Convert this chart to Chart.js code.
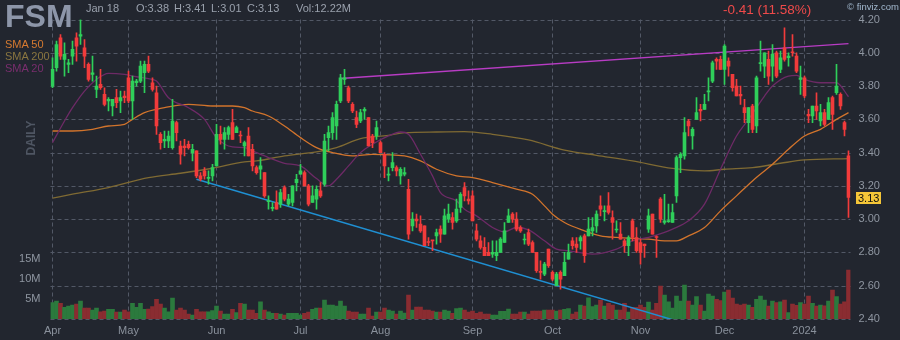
<!DOCTYPE html>
<html><head><meta charset="utf-8">
<script src="https://cdn.jsdelivr.net/npm/chart.js@4.4.1/dist/chart.umd.min.js"></script>
<style>
html,body{margin:0;padding:0;background:#22262f;width:900px;height:340px;overflow:hidden;font-family:"Liberation Sans",Arial,sans-serif}
#wrap{position:relative;width:900px;height:340px}
canvas{position:absolute;left:0;top:0}
.t{position:absolute;white-space:nowrap;line-height:1}
</style></head><body>
<div id="wrap">
<canvas id="c" width="900" height="340"></canvas>
<div class="t" style="left:5px;top:0px;font-size:32px;font-weight:bold;color:#8d96a9">FSM</div>
<div class="t" style="left:86px;top:3px;font-size:11px;color:#9aa1ad">Jan 18</div>
<div class="t" style="left:136px;top:3px;font-size:11px;color:#9aa1ad">O:3.38</div>
<div class="t" style="left:174px;top:3px;font-size:11px;color:#9aa1ad">H:3.41</div>
<div class="t" style="left:211px;top:3px;font-size:11px;color:#9aa1ad">L:3.01</div>
<div class="t" style="left:247px;top:3px;font-size:11px;color:#9aa1ad">C:3.13</div>
<div class="t" style="left:296px;top:3px;font-size:11px;color:#9aa1ad">Vol:12.22M</div>
<div class="t" style="left:723px;top:3px;font-size:13.5px;color:#ef4a4a">-0.41 (11.58%)</div>
<div class="t" style="left:847px;top:2px;font-size:9.5px;color:#a3b9cf">© finviz.com</div>
<div class="t" style="left:5px;top:39px;font-size:11px;color:#d67a30">SMA 50</div>
<div class="t" style="left:5px;top:51px;font-size:11px;color:#8a7640">SMA 200</div>
<div class="t" style="left:5px;top:63px;font-size:11px;color:#7a2e6e">SMA 20</div>
<div class="t" style="left:31px;top:138px;font-size:12px;font-weight:bold;color:#4f5663;transform:translate(-50%,-50%) rotate(-90deg)">DAILY</div>
</div>
<script>
const monthLabels = ['Apr','May','Jun','Jul','Aug','Sep','Oct','Nov','Dec','2024'];
const monthStarts = [0,19,41,62,82,105,125,147,168,188];
const priceTicks = [2.40,2.60,2.80,3.00,3.20,3.40,3.60,3.80,4.00,4.20];
const volTicks = [5,10,15];

const opens = [3.80,3.91,4.09,3.96,3.93,3.98,4.09,4.10,4.03,3.93,3.87,3.78,3.81,3.75,3.71,3.68,3.73,3.71,3.74,3.85,
3.71,3.82,3.83,3.88,3.93,3.82,3.76,3.51,3.47,3.47,3.43,3.58,3.44,3.44,3.45,3.40,3.41,3.26,3.29,3.245,
3.26,3.32,3.51,3.48,3.51,3.58,3.52,3.505,3.44,3.50,3.42,3.31,3.30,3.28,3.105,3.065,3.10,3.09,3.19,3.09,
3.10,3.22,3.27,3.28,3.20,3.10,3.12,3.17,3.21,3.49,3.52,3.56,3.71,3.84,3.79,3.69,3.61,3.59,3.65,3.61,
3.50,3.50,3.46,3.39,3.265,3.31,3.31,3.26,3.27,3.18,2.96,3.00,2.97,2.96,2.865,2.875,2.90,2.94,2.91,3.00,
3.01,2.99,3.07,3.19,3.12,3.14,2.93,2.87,2.83,2.80,2.79,2.78,2.80,2.86,2.98,3.03,3.00,2.95,2.875,2.92,
2.86,2.80,2.685,2.67,2.82,2.68,2.60,2.68,2.66,2.76,2.87,2.85,2.87,2.90,2.90,2.93,2.96,3.08,3.045,3.08,
3.01,2.935,2.91,2.87,2.84,2.99,2.89,2.86,2.85,2.94,3.03,2.895,3.12,2.98,2.985,2.98,3.14,3.37,3.38,3.59,
3.50,3.60,3.66,3.66,3.765,3.83,3.96,3.96,3.90,3.95,3.87,3.80,3.75,3.67,3.58,3.68,3.56,3.935,3.92,3.96,
3.92,4.00,3.90,4.03,3.97,4.005,3.98,3.84,3.85,3.63,3.62,3.68,3.59,3.64,3.60,3.73,3.76,3.75,3.58,3.38];
const highs = [3.97,4.07,4.11,4.06,3.96,4.07,4.12,4.20,4.08,3.94,3.98,3.86,3.90,3.79,3.73,3.72,3.78,3.77,3.77,3.89,
3.86,3.84,3.95,3.95,3.98,3.85,3.80,3.52,3.53,3.53,3.72,3.59,3.47,3.48,3.47,3.45,3.41,3.28,3.31,3.29,
3.33,3.57,3.56,3.55,3.56,3.66,3.56,3.53,3.47,3.55,3.45,3.32,3.37,3.28,3.14,3.10,3.17,3.18,3.20,3.15,
3.20,3.27,3.33,3.29,3.21,3.20,3.20,3.22,3.51,3.56,3.64,3.71,3.87,3.90,3.80,3.70,3.65,3.66,3.67,3.61,
3.51,3.59,3.47,3.40,3.31,3.40,3.32,3.31,3.31,3.24,3.04,3.03,3.02,2.96,2.89,2.87,2.94,2.96,3.06,3.09,
3.04,3.12,3.16,3.22,3.17,3.17,2.97,2.90,2.89,2.86,2.87,2.87,2.89,2.98,3.06,3.04,3.04,2.96,2.91,2.94,
2.87,2.80,2.75,2.74,2.82,2.69,2.68,2.69,2.80,2.85,2.89,2.89,2.90,2.91,3.01,3.01,3.05,3.14,3.08,3.16,
3.05,2.99,2.98,2.88,2.90,3.00,2.95,2.88,2.85,3.06,3.03,2.90,3.13,3.15,3.09,3.09,3.38,3.40,3.61,3.60,
3.55,3.73,3.69,3.75,3.85,3.95,3.97,3.98,4.05,3.97,3.87,3.84,3.80,3.72,3.67,3.69,3.86,4.07,4.00,4.01,
4.05,4.01,4.01,4.15,4.00,4.11,4.00,3.92,3.86,3.66,3.68,3.76,3.69,3.66,3.73,3.74,3.93,3.76,3.59,3.41];
const lows = [3.79,3.89,3.96,3.86,3.88,3.93,3.95,4.05,3.91,3.83,3.83,3.73,3.78,3.68,3.65,3.62,3.67,3.64,3.70,3.70,
3.60,3.80,3.82,3.76,3.88,3.77,3.51,3.42,3.43,3.43,3.42,3.47,3.33,3.38,3.42,3.35,3.25,3.23,3.24,3.21,
3.23,3.32,3.45,3.42,3.48,3.48,3.52,3.46,3.38,3.38,3.29,3.27,3.24,3.13,3.06,3.05,3.06,3.07,3.11,3.08,
3.08,3.17,3.27,3.20,3.08,3.10,3.06,3.13,3.20,3.41,3.48,3.48,3.70,3.81,3.70,3.64,3.55,3.58,3.60,3.44,
3.43,3.48,3.40,3.25,3.23,3.29,3.26,3.21,3.26,2.88,2.93,2.95,2.92,2.84,2.84,2.81,2.85,2.86,2.91,2.98,
2.94,2.98,3.04,3.11,3.09,2.99,2.87,2.82,2.78,2.78,2.77,2.75,2.80,2.86,2.98,2.98,2.93,2.92,2.85,2.84,
2.80,2.68,2.64,2.66,2.71,2.63,2.60,2.58,2.66,2.76,2.82,2.80,2.82,2.74,2.90,2.90,2.92,3.02,2.99,3.03,
2.88,2.92,2.88,2.80,2.78,2.87,2.80,2.73,2.77,2.92,2.91,2.77,2.98,2.97,2.98,2.98,3.10,3.28,3.36,3.50,
3.42,3.60,3.59,3.66,3.71,3.82,3.90,3.90,3.81,3.86,3.77,3.74,3.69,3.58,3.52,3.52,3.52,3.89,3.85,3.81,
3.83,3.85,3.88,3.95,3.92,3.98,3.88,3.75,3.73,3.58,3.58,3.60,3.56,3.56,3.60,3.54,3.75,3.66,3.50,3.01];
const closes = [3.90,4.05,3.98,3.99,3.94,4.02,4.04,4.11,3.98,3.84,3.88,3.80,3.79,3.69,3.72,3.72,3.70,3.73,3.73,3.71,
3.83,3.83,3.92,3.93,3.89,3.78,3.56,3.46,3.48,3.50,3.59,3.52,3.39,3.43,3.43,3.42,3.26,3.24,3.26,3.25,
3.31,3.51,3.48,3.52,3.55,3.48,3.55,3.50,3.46,3.38,3.32,3.28,3.32,3.14,3.11,3.07,3.06,3.16,3.12,3.12,
3.20,3.24,3.29,3.20,3.09,3.14,3.18,3.14,3.47,3.52,3.61,3.69,3.85,3.85,3.71,3.65,3.57,3.64,3.66,3.44,
3.46,3.55,3.40,3.32,3.27,3.34,3.29,3.30,3.28,2.91,3.00,2.99,2.93,2.84,2.86,2.87,2.92,2.91,3.02,3.03,
2.98,3.06,3.15,3.14,3.11,2.99,2.88,2.83,2.78,2.78,2.80,2.80,2.88,2.93,3.02,3.00,2.94,2.93,2.88,2.85,
2.80,2.69,2.68,2.73,2.72,2.64,2.67,2.64,2.74,2.80,2.84,2.83,2.89,2.78,2.94,2.95,3.03,3.06,3.05,3.04,
2.98,2.94,2.88,2.84,2.89,2.89,2.81,2.80,2.84,3.02,2.91,2.89,3.00,2.99,2.99,3.04,3.37,3.39,3.52,3.56,
3.54,3.64,3.65,3.69,3.77,3.94,3.95,3.90,4.04,3.92,3.79,3.74,3.74,3.64,3.67,3.54,3.85,3.94,4.00,3.86,
3.99,3.86,3.97,3.96,3.98,4.00,3.89,3.85,3.74,3.62,3.68,3.65,3.64,3.57,3.70,3.63,3.80,3.68,3.54,3.13];
const volumeM = [4.1,4.5,3.9,2.9,3.25,3.5,3.75,4.5,2.7,2.7,2.25,2.7,1.8,2.0,2.4,2.4,1.75,1.75,2.25,1.8,
3.9,2.9,3.9,2.4,2.5,3.1,4.9,3.75,2.7,1.8,5.2,2.25,2.7,2.25,1.25,1.0,2.4,1.8,1.8,1.8,
2.1,3.25,2.0,1.25,1.25,2.4,1.6,3.9,3.75,2.25,2.25,1.4,4.3,2.25,1.8,1.4,1.4,1.25,1.0,1.4,
1.4,1.4,1.0,1.4,1.7,2.4,2.7,2.7,4.75,3.5,3.5,3.25,4.5,3.25,2.0,1.75,1.75,1.25,1.25,2.75,
0.75,1.75,1.75,2.75,2.25,2.0,1.25,2.0,1.5,6.0,2.25,3.0,3.0,2.25,2.25,2.0,1.75,1.75,2.25,2.0,
1.4,2.6,2.75,2.25,1.75,2.0,1.4,1.75,1.25,1.25,1.0,1.0,1.9,1.9,2.5,1.25,1.25,1.75,1.75,1.25,
2.0,2.0,2.0,2.25,2.25,2.25,2.0,2.25,2.4,2.6,1.25,1.75,3.5,3.25,5.3,3.1,3.5,4.75,3.25,3.9,
3.5,2.25,2.25,3.9,1.75,2.9,2.9,3.5,2.9,4.25,2.25,3.9,8.25,6.0,4.3,2.75,5.75,4.5,8.5,4.5,
3.5,5.6,3.5,2.0,6.25,5.75,4.9,4.6,6.75,7.25,5.2,3.75,3.5,3.75,3.5,2.9,4.9,5.75,4.75,3.25,
4.5,4.1,4.3,4.75,1.6,3.75,3.4,4.1,3.75,5.75,3.9,3.25,3.5,3.3,4.5,7.25,5.6,3.75,4.3,12.22];

const sma20 = [[0,3.46],[3,3.59],[5,3.67],[8,3.77],[11,3.84],[14,3.876],[18,3.87],[21,3.856],[24,3.844],[26,3.83],[29,3.73],[34,3.67],[38,3.60],[41,3.49],[45,3.434],[48,3.43],[50,3.41],[54,3.37],[58,3.336],[62,3.32],[66,3.244],[69,3.20],[71,3.24],[74,3.32],[77,3.40],[80,3.45],[84,3.50],[87,3.524],[89,3.51],[92,3.39],[95,3.26],[97,3.16],[101,3.11],[103,3.06],[106,3.02],[110,2.95],[113,2.924],[116,2.95],[119,2.936],[123,2.87],[126,2.82],[129,2.81],[135,2.79],[141,2.82],[145,2.87],[149,2.89],[153,2.92],[155,2.94],[159,2.99],[163,3.09],[167,3.30],[171,3.50],[174,3.60],[178,3.74],[180,3.80],[184,3.86],[186,3.864],[188,3.84],[192,3.82],[196,3.82],[199,3.736]];
const sma50 = [[0,3.53],[5,3.53],[10,3.54],[14,3.56],[18,3.57],[20,3.60],[23,3.64],[26,3.66],[28,3.67],[34,3.69],[40,3.68],[45,3.68],[48,3.67],[50,3.65],[54,3.62],[58,3.56],[62,3.49],[66,3.43],[70,3.40],[75,3.38],[80,3.39],[88,3.38],[92,3.35],[96,3.30],[101,3.26],[105,3.25],[110,3.22],[116,3.18],[120,3.15],[123,3.08],[125,3.03],[128,2.98],[133,2.93],[137,2.90],[141,2.89],[149,2.88],[153,2.87],[156,2.87],[159,2.90],[163,2.95],[167,3.05],[171,3.14],[175,3.23],[180,3.33],[184,3.42],[188,3.50],[192,3.54],[196,3.60],[199,3.64]];
const sma200 = [[0,3.126],[5,3.15],[14,3.19],[24,3.25],[32,3.276],[40,3.306],[48,3.344],[51,3.35],[58,3.38],[66,3.404],[71,3.43],[77,3.484],[84,3.504],[88,3.52],[96,3.524],[103,3.526],[110,3.51],[119,3.476],[128,3.415],[136,3.384],[145,3.35],[155,3.305],[163,3.29],[168,3.30],[175,3.31],[182,3.336],[188,3.356],[199,3.364]];
const resistance = [[72,3.845],[199,4.055]];
const support = [[36,3.24],[155,2.396]];

const N = opens.length;
const idx = [...Array(N).keys()];
const labels = idx.map(String);
const monthAt = {}; monthStarts.forEach((s,k)=>monthAt[s]=monthLabels[k]);
const isUp = idx.map(i => closes[i] >= opens[i]);
const UP='#2fcf5a', DN='#f23b3b', VUP='#2b7a3d', VDN='#8a2c31';
function sparse(pairs){ const a = new Array(N).fill(null); pairs.forEach(([i,v])=>{a[i]=v;}); return a; }
const FONT = {family:'"Liberation Sans", Arial, sans-serif', size:11};
const GRID = '#525866';

const dashGrid = {
  id:'dashGrid',
  beforeDatasetsDraw(chart){
    const ctx = chart.ctx; const a = chart.chartArea; const x = chart.scales.x, y = chart.scales.y;
    ctx.save();
    ctx.strokeStyle = GRID; ctx.lineWidth = 1; ctx.setLineDash([4,3]);
    ctx.beginPath();
    for (const v of priceTicks) { const py = Math.round(y.getPixelForValue(v)) + 0.5; ctx.moveTo(a.left, py); ctx.lineTo(a.right, py); }
    for (const i of monthStarts) { const px = Math.floor(x.getPixelForValue(i)) + 0.5; ctx.moveTo(px, a.top); ctx.lineTo(px, a.bottom); }
    ctx.stroke();
    ctx.restore();
  }
};

const lastBox = {
  id:'lastBox',
  afterDraw(chart){
    const {ctx} = chart; const y = chart.scales.y;
    const v = closes[N-1]; const py = Math.round(y.getPixelForValue(v));
    ctx.save();
    ctx.fillStyle = '#f5c638';
    ctx.fillRect(856, py-6, 25, 12);
    ctx.fillStyle = '#111';
    ctx.font = '11px "Liberation Sans", Arial, sans-serif';
    ctx.textBaseline = 'middle'; ctx.textAlign = 'left';
    ctx.fillText(v.toFixed(2), 858, py+0.5);
    ctx.restore();
  }
};

const lineDs = (label, pairs, color, w, order) => ({
  type:'line', label, data: sparse(pairs), yAxisID:'y', borderColor: color, borderWidth: w,
  pointRadius:0, spanGaps:true, cubicInterpolationMode:'monotone', order, fill:false
});

new Chart(document.getElementById('c'), {
  type:'bar',
  data:{
    labels,
    datasets:[
      { label:'vol', data: volumeM, yAxisID:'yv', backgroundColor: idx.map(i=>isUp[i]?VUP:VDN), barThickness:4, grouped:false, order:10 },
      lineDs('SMA 200', sma200, '#7f6a33', 1.3, 7),
      lineDs('SMA 50', sma50, '#d2742c', 1.3, 6),
      lineDs('SMA 20', sma20, '#6d2a66', 1.3, 5),
      lineDs('res', resistance, '#b83cc4', 1.5, 4),
      lineDs('sup', support, '#1f8fd2', 1.5, 4),
      { label:'wick', data: idx.map(i=>[lows[i], highs[i]]), yAxisID:'y', backgroundColor: idx.map(i=>isUp[i]?UP:DN), barThickness:1, grouped:false, order:2 },
      { label:'body', data: idx.map(i=>[Math.min(opens[i],closes[i]), Math.max(opens[i],closes[i])]), yAxisID:'y', backgroundColor: idx.map(i=>isUp[i]?UP:DN), barThickness:3, minBarLength:1, grouped:false, order:1 }
    ]
  },
  options:{
    responsive:false, animation:false, devicePixelRatio:1,
    layout:{ padding:{ left:0.5, right:0, top:19.5, bottom:0 } },
    plugins:{ legend:{display:false}, tooltip:{enabled:false} },
    scales:{
      x:{ type:'category', offset:true,
        grid:{ display:false, drawTicks:false },
        border:{ display:false },
        ticks:{ autoSkip:false, maxRotation:0, color:'#8a919c', font:FONT, padding:5, callback:(v)=>monthAt[v] },
        afterBuildTicks:(s)=>{ s.ticks = monthStarts.map(v=>({value:v})); },
        afterFit:(s)=>{ s.height = 21; }
      },
      y:{ position:'right', min:2.4, max:4.2,
        grid:{ display:false, drawTicks:false },
        border:{ display:false },
        ticks:{ color:'#8f96a1', font:FONT, padding:8, callback:(v)=>Number(v).toFixed(2) },
        afterBuildTicks:(s)=>{ s.ticks = priceTicks.map(v=>({value:v})); },
        afterFit:(s)=>{ s.width = 49.5; }
      },
      yv:{ position:'left', min:0, max:74.875,
        grid:{ display:false, drawTicks:false },
        border:{ display:false },
        ticks:{ color:'#8f96a1', font:FONT, padding:10, callback:(v)=>v+'M' },
        afterBuildTicks:(s)=>{ s.ticks = volTicks.map(v=>({value:v})); },
        afterFit:(s)=>{ s.width = 50; }
      }
    }
  },
  plugins:[dashGrid, lastBox]
});
</script>
</body></html>
